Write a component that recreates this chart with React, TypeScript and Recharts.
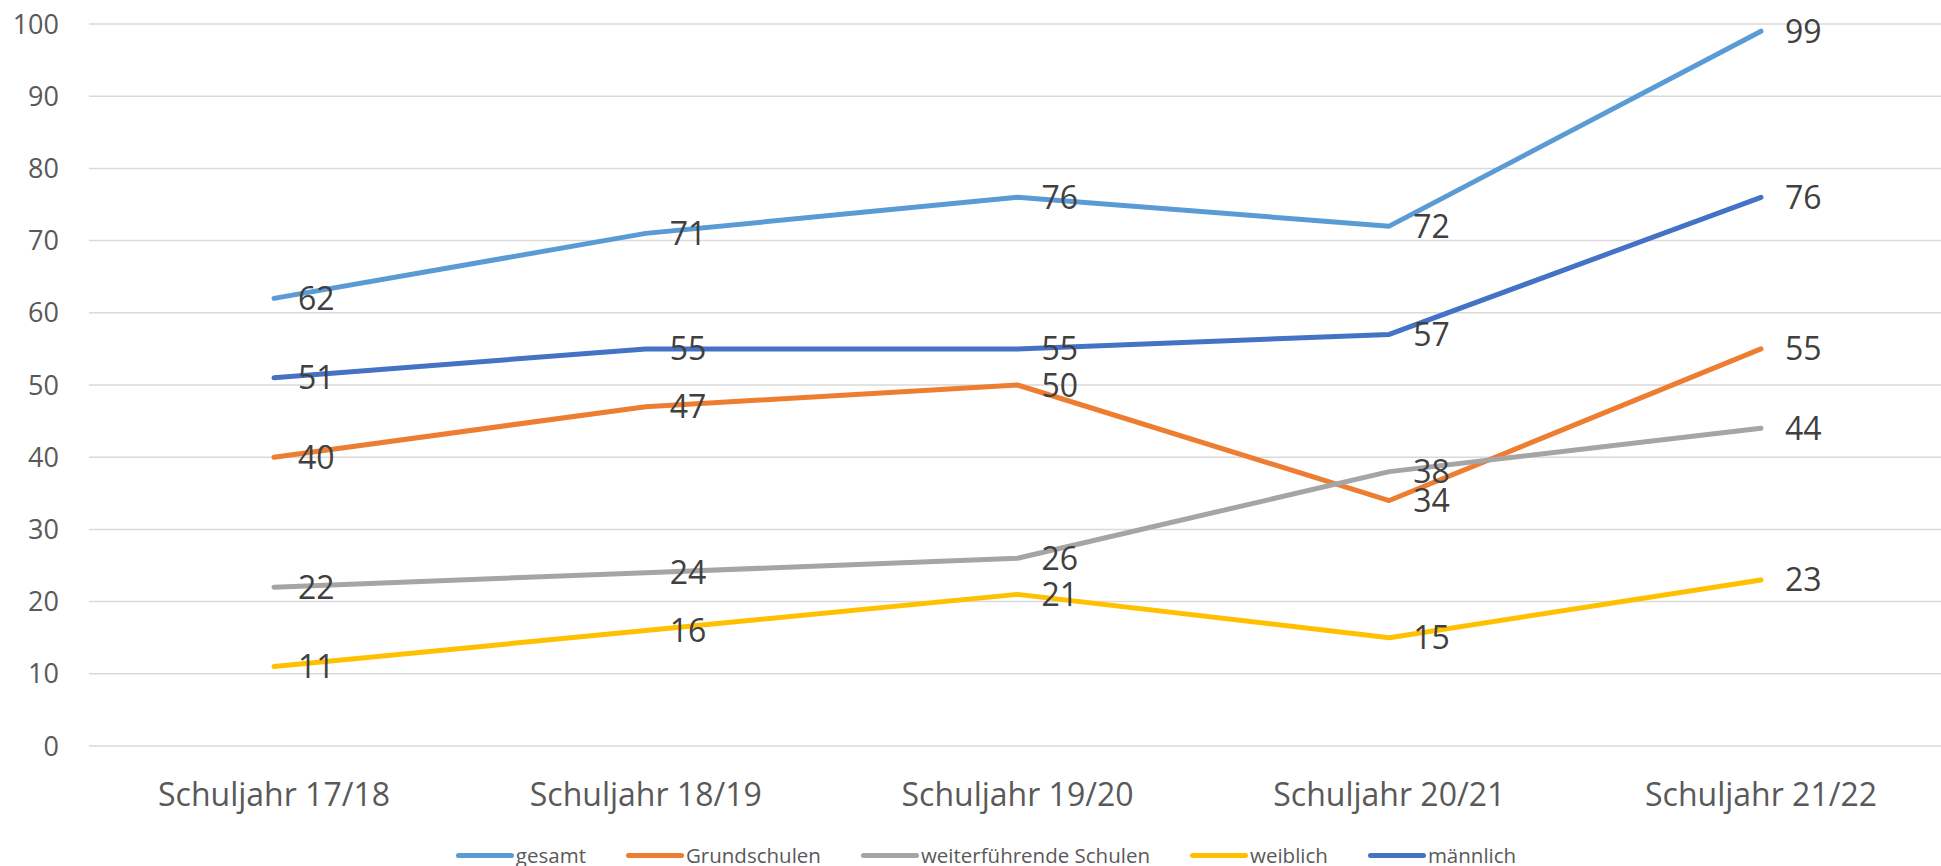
import { CartesianGrid, LabelList, Legend, Line, LineChart, XAxis, YAxis } from 'recharts'

const categories = ['Schuljahr 17/18', 'Schuljahr 18/19', 'Schuljahr 19/20', 'Schuljahr 20/21', 'Schuljahr 21/22']
const gesamt = [62, 71, 76, 72, 99]
const grundschulen = [40, 47, 50, 34, 55]
const weiterfuehrende = [22, 24, 26, 38, 44]
const weiblich = [11, 16, 21, 15, 23]
const maennlich = [51, 55, 55, 57, 76]
const yTicks = [0, 10, 20, 30, 40, 50, 60, 70, 80, 90, 100]

const SERIES = [
  { key: 'gesamt', name: 'gesamt', color: '#5B9BD5', values: gesamt },
  { key: 'grund', name: 'Grundschulen', color: '#ED7D31', values: grundschulen },
  { key: 'weiter', name: 'weiterführende Schulen', color: '#A5A5A5', values: weiterfuehrende },
  { key: 'weiblich', name: 'weiblich', color: '#FFC000', values: weiblich },
  { key: 'maennlich', name: 'männlich', color: '#4472C4', values: maennlich },
]

const data = categories.map((cat, i) => {
  const row: Record<string, string | number> = { cat }
  SERIES.forEach((s) => {
    row[s.key] = s.values[i]
  })
  return row
})

const FONT = '"Open Sans", "Noto Sans", sans-serif'

function ValueLabel(props: any) {
  const { x, y, value } = props
  return (
    <text x={Number(x) + 24} y={Number(y)} dy="0.36em" fontSize={32} fill="#404040" fontFamily={FONT}>
      {value}
    </text>
  )
}

function ChartLegend() {
  return (
    <div
      style={{
        height: 40,
        paddingTop: 18,
        paddingLeft: 31,
        boxSizing: 'border-box',
        display: 'flex',
        justifyContent: 'center',
        alignItems: 'center',
        gap: 40,
        fontSize: 20.5,
        color: '#595959',
        fontFamily: FONT,
      }}
    >
      {SERIES.map((s) => (
        <div key={s.key} style={{ display: 'flex', alignItems: 'center', gap: 2 }}>
          <span style={{ display: 'inline-block', width: 58, height: 5, borderRadius: 3, background: s.color }} />
          <span>{s.name}</span>
        </div>
      ))}
    </div>
  )
}

export default function App() {
  return (
    <div style={{ position: 'absolute', left: 0, top: 0, width: 1941, height: 866, background: '#fff', fontFamily: FONT }}>
      <LineChart width={1941} height={866} data={data} margin={{ top: 24, right: 0, bottom: 0, left: 0 }}>
        <CartesianGrid vertical={false} stroke="#d9d9d9" strokeWidth={1.5} />
        <XAxis
          dataKey="cat"
          axisLine={false}
          tickLine={false}
          tickSize={0}
          tickMargin={37}
          height={80}
          padding={{ left: 185, right: 180 }}
          tick={{ fontSize: 32, fill: '#595959' }}
          interval={0}
        />
        <YAxis
          domain={[0, 100]}
          ticks={yTicks}
          width={89}
          axisLine={false}
          tickLine={false}
          tickSize={0}
          tickMargin={30}
          tick={{ fontSize: 27, fill: '#595959' }}
        />
        <Legend verticalAlign="bottom" content={() => <ChartLegend />} />
        {SERIES.map((s) => (
          <Line
            key={s.key}
            dataKey={s.key}
            name={s.name}
            stroke={s.color}
            strokeWidth={5}
            strokeLinecap="round"
            strokeLinejoin="round"
            dot={false}
            activeDot={false}
            isAnimationActive={false}
          >
            <LabelList dataKey={s.key} content={<ValueLabel />} />
          </Line>
        ))}
      </LineChart>
    </div>
  )
}
